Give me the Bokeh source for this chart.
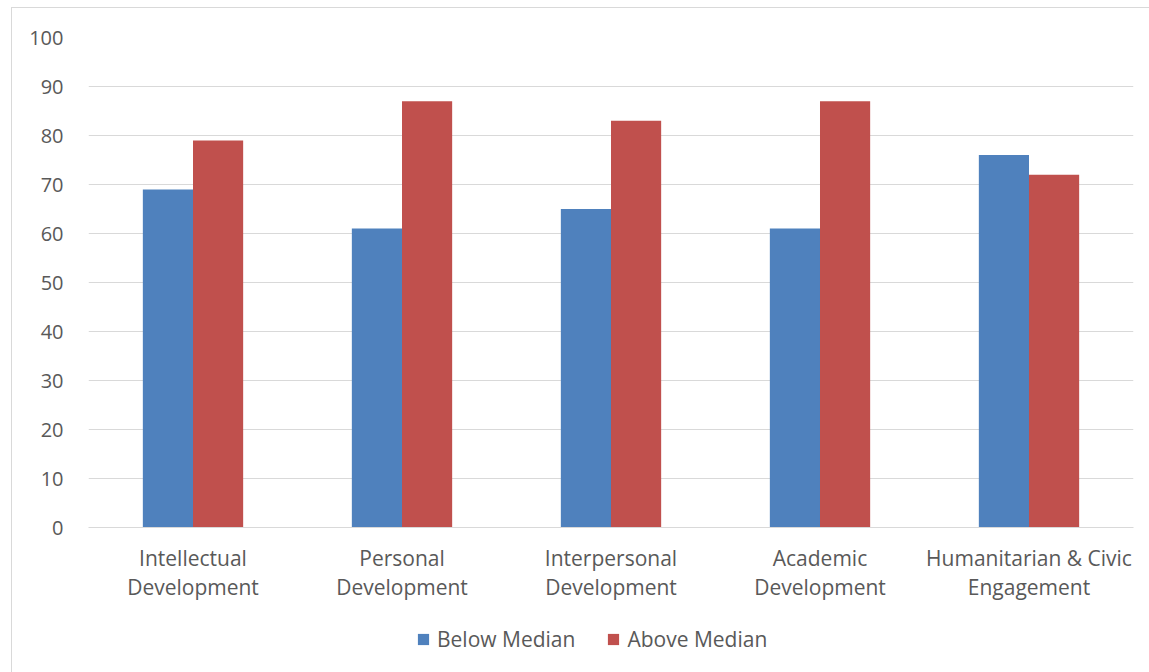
from bokeh.plotting import figure
from bokeh.layouts import column
from bokeh.models import ColumnDataSource, FactorRange, Range1d, FixedTicker, Legend, LegendItem
from bokeh.transform import dodge
from bokeh.embed import file_html
from bokeh.resources import INLINE

categories = ["Intellectual\nDevelopment", "Personal\nDevelopment", "Interpersonal\nDevelopment",
              "Academic\nDevelopment", "Humanitarian & Civic\nEngagement"]
series_names = ["Below Median", "Above Median"]
below_median = [69, 61, 65, 61, 76]
above_median = [79, 87, 83, 87, 72]
y_ticks = [0, 10, 20, 30, 40, 50, 60, 70, 80, 90, 100]
colors = ["#4f81bd", "#c0504d"]

src = ColumnDataSource(dict(cat=categories, below=below_median, above=above_median))

FONT = "Open Sans"
TXT = "#595959"
GRID = "#d9d9d9"

p = figure(x_range=FactorRange(*categories, range_padding=0), y_range=Range1d(0, 100),
           width=1137, height=600, output_backend="svg", toolbar_location=None,
           min_border_left=76, min_border_right=16, min_border_top=29, min_border_bottom=81)
p.outline_line_color = None
p.background_fill_color = "white"
p.border_fill_color = "white"

p.vbar(x=dodge("cat", -0.12, range=p.x_range), top="below", width=0.24, source=src,
       fill_color=colors[0], line_color=None)
p.vbar(x=dodge("cat", 0.12, range=p.x_range), top="above", width=0.24, source=src,
       fill_color=colors[1], line_color=None)

p.xgrid.grid_line_color = None
p.ygrid.grid_line_color = GRID
p.ygrid.grid_line_width = 1
p.yaxis.ticker = FixedTicker(ticks=y_ticks)

for ax in (p.xaxis[0], p.yaxis[0]):
    ax.axis_line_color = None
    ax.major_tick_line_color = None
    ax.minor_tick_line_color = None
    ax.major_label_text_font = FONT
    ax.major_label_text_color = TXT
p.yaxis.major_label_text_font_size = "20px"
p.xaxis.major_label_text_font_size = "21px"
p.xaxis.major_label_text_line_height = 1.07
p.yaxis.major_label_standoff = 19
p.xaxis.major_label_standoff = 10
p.xaxis.axis_line_color = GRID

# legend strip below the chart (its frame is aligned with the chart's frame by the column)
lf = figure(width=1137, height=64, x_range=Range1d(0, 1), y_range=Range1d(0, 1),
            output_backend="svg", toolbar_location=None,
            min_border_left=0, min_border_right=0, min_border_top=0, min_border_bottom=0)
lf.axis.visible = False
lf.grid.visible = False
lf.outline_line_color = None
lf.border_fill_color = "white"
items = []
for name, c in zip(series_names, colors):
    # swatch source placed outside the visible range; only its legend entry is seen
    sw = ColumnDataSource(dict(x=[-5], top=[0]))
    r = lf.vbar(x="x", top="top", width=0.1, source=sw, fill_color=c, line_color=None)
    items.append(LegendItem(label=name, renderers=[r]))
legend = Legend(items=items, location=(328, 19), orientation="horizontal",
                label_text_font=FONT, label_text_font_size="21px", label_text_color=TXT,
                glyph_width=14, glyph_height=14, label_standoff=7, spacing=31,
                padding=0, margin=0, border_line_alpha=0, background_fill_alpha=0,
                label_height=20)
lf.add_layout(legend, "center")

layout = column(p, lf, spacing=0,
                styles={"margin-left": "12px", "margin-top": "8px", "outline": "1px solid #d9d9d9"})

open("out.html", "w").write(file_html(layout, INLINE))
